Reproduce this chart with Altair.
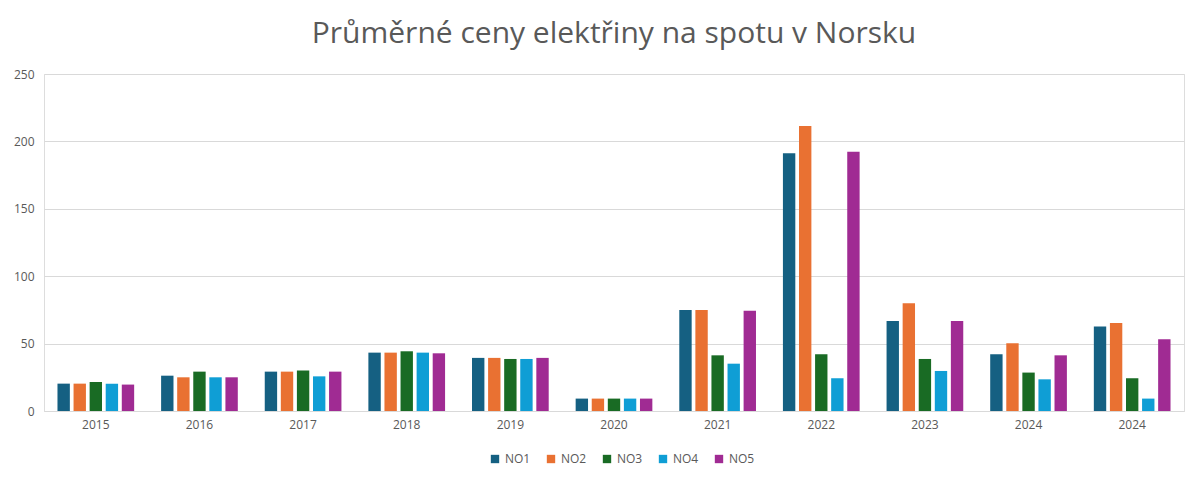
import altair as alt
import pandas as pd

# average spot prices per Norwegian price zone
years = ["2015", "2016", "2017", "2018", "2019", "2020", "2021", "2022", "2023", "2024", "2024"]
zones = ["NO1", "NO2", "NO3", "NO4", "NO5"]
no1 = [20.3, 26.2, 29.2, 43.3, 39.4, 9.2, 75.0, 191.3, 66.8, 42.1, 62.6]
no2 = [20.3, 25.0, 29.2, 43.3, 39.4, 9.2, 75.0, 211.4, 80.0, 50.2, 65.3]
no3 = [21.5, 29.2, 30.0, 44.3, 38.6, 9.2, 41.3, 42.1, 38.6, 28.5, 24.3]
no4 = [20.3, 25.0, 25.7, 43.3, 38.6, 9.2, 35.1, 24.3, 29.7, 23.5, 9.2]
no5 = [19.6, 25.0, 29.2, 42.8, 39.4, 9.2, 74.3, 192.3, 66.8, 41.3, 53.2]
colors = ["#156082", "#E97132", "#196B24", "#0F9ED5", "#A02B93"]

rows = []
for z, vals in zip(zones, [no1, no2, no3, no4, no5]):
    for i, v in enumerate(vals):
        rows.append({"idx": i, "zone": z, "price": v})
df = pd.DataFrame(rows)

label_expr = "[" + ",".join("'%s'" % y for y in years) + "][datum.value]"

chart = alt.Chart(df).mark_bar().encode(
    x=alt.X("idx:O", title=None,
            scale=alt.Scale(paddingInner=0.26, paddingOuter=0.13),
            axis=alt.Axis(labelExpr=label_expr, labelAngle=0, ticks=False,
                          domainColor="#d9d9d9", labelColor="#595959",
                          labelFontSize=12, labelPadding=8)),
    xOffset=alt.XOffset("zone:N", scale=alt.Scale(paddingInner=0.23)),
    y=alt.Y("price:Q", title=None,
            scale=alt.Scale(domain=[0, 250]),
            axis=alt.Axis(values=[0, 50, 100, 150, 200, 250], domain=False, ticks=False,
                          gridColor="#d9d9d9", labelColor="#595959",
                          labelFontSize=12, labelPadding=10)),
    color=alt.Color("zone:N", scale=alt.Scale(domain=zones, range=colors),
                    legend=alt.Legend(title=None, orient="none", direction="horizontal",
                                      legendX=445, legendY=379,
                                      symbolType="square", symbolSize=70,
                                      labelColor="#595959", labelFontSize=12,
                                      columnPadding=14)),
).properties(
    width=1140,
    height=337,
    padding={"left": 5, "right": 5, "top": 11, "bottom": 5},
    title=alt.TitleParams("Průměrné ceny elektřiny na spotu v Norsku",
                          fontSize=30, color="#595959", font="Open Sans",
                          fontWeight="normal", offset=19),
).configure_view(
    stroke=None
).configure(
    font="Open Sans"
)

chart.save("out.html", embed_options={"renderer": "svg", "actions": False})
